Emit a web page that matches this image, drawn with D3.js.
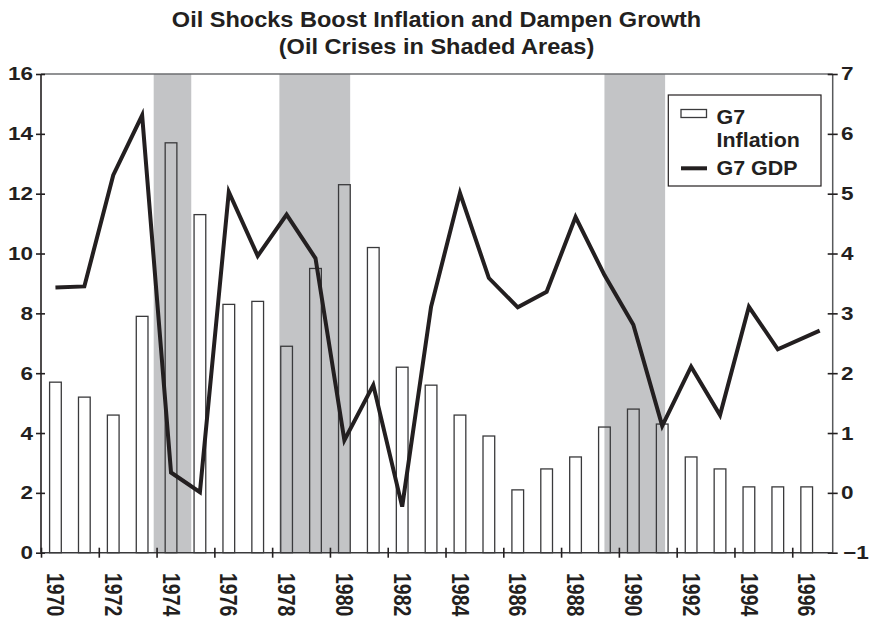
<!DOCTYPE html>
<html><head><meta charset="utf-8">
<script src="https://cdn.jsdelivr.net/npm/d3@7"></script>
<style>body{margin:0;background:#fff}text{font-family:"Liberation Sans",Arial,sans-serif;font-weight:bold;fill:#231f20}</style>
</head><body><svg id="c" width="869" height="622"></svg>
<script>
// ---- data ----
const years = [1970,1971,1972,1973,1974,1975,1976,1977,1978,1979,1980,1981,1982,1983,1984,1985,1986,1987,1988,1989,1990,1991,1992,1993,1994,1995,1996];
const inflation = [5.7,5.2,4.6,7.9,13.7,11.3,8.3,8.4,6.9,9.5,12.3,10.2,6.2,5.6,4.6,3.9,2.1,2.8,3.2,4.2,4.8,4.3,3.2,2.8,2.2,2.2,2.2];
const gdp = [3.43,3.45,5.31,6.31,0.34,0.01,5.03,3.96,4.65,3.92,0.88,1.80,-0.23,3.11,5.01,3.59,3.10,3.36,4.61,3.64,2.81,1.12,2.11,1.30,3.11,2.40,2.71];
const gdpYears = [1970,1971,1972,1973,1974,1975,1976,1977,1978,1979,1980,1981,1982,1983,1984,1985,1986,1987,1988,1989,1990,1991,1992,1993,1994,1995,1996.45];
const crisisStart = [1973.4, 1977.75, 1989.0];
const crisisEnd = [1974.7, 1980.2, 1991.1];
const yearLabels = [1970,1972,1974,1976,1978,1980,1982,1984,1986,1988,1990,1992,1994,1996];
const leftTicks = [0,2,4,6,8,10,12,14,16];
const rightTicks = [-1,0,1,2,3,4,5,6,7];
const titleLines = ["Oil Shocks Boost Inflation and Dampen Growth","(Oil Crises in Shaded Areas)"];

// ---- layout ----
const L = 41, R = 832.7, T = 74, B = 552.7;
const svg = d3.select("#c");
const x = d3.scaleLinear().domain([1969.5, 1996.9]).range([L, R]);
const yL = d3.scaleLinear().domain([0, 16]).range([B, T]);
const yR = d3.scaleLinear().domain([-1, 7]).range([B, T]);
const barHalf = 0.2025;

// title
svg.selectAll("text.title").data(titleLines).join("text")
  .attr("class","title")
  .attr("transform",(d,i)=>`translate(436.5,${27+i*27}) scale(1.07,1)`)
  .attr("text-anchor","middle").style("font-size","22px").text(d=>d);

// shading
svg.selectAll("rect.shade").data(crisisStart).join("rect")
  .attr("x",(d)=>x(d)).attr("y",T)
  .attr("width",(d,i)=>x(crisisEnd[i])-x(d)).attr("height",B-T)
  .attr("fill","#c3c4c6");

// top border
svg.append("line").attr("x1",L).attr("x2",R).attr("y1",T).attr("y2",T)
  .attr("stroke","#6d6e70").attr("stroke-width",1.5);

// bars
svg.selectAll("rect.bar").data(inflation).join("rect")
  .attr("x",(d,i)=>x(years[i]-barHalf)).attr("y",d=>yL(d))
  .attr("width",(d,i)=>x(years[i]+barHalf)-x(years[i]-barHalf))
  .attr("height",d=>yL(0)-yL(d))
  .attr("fill","none").attr("stroke","#3a3a3c").attr("stroke-width",1.3);

// axes
const stretch = 1.25;
function styleAxis(g){ g.selectAll("text").remove(); g.select(".domain").remove(); }
// left axis
svg.append("line").attr("x1",L).attr("x2",L).attr("y1",T).attr("y2",B).attr("stroke","#231f20").attr("stroke-width",1.6);
const la = svg.append("g").attr("transform",`translate(${L},0)`)
  .call(d3.axisLeft(yL).tickValues(leftTicks).tickSize(5));
la.call(styleAxis);
la.selectAll(".tick line").attr("x1",-5).attr("x2",4).attr("stroke","#231f20").attr("stroke-width",1.6);
svg.selectAll("text.lt").data(leftTicks).join("text").attr("class","lt")
  .attr("transform",d=>`translate(33,${yL(d)}) scale(${stretch},1)`)
  .attr("dy","0.36em").attr("text-anchor","end").style("font-size","18px").text(d=>d);

// right axis
svg.append("line").attr("x1",R).attr("x2",R).attr("y1",T).attr("y2",B).attr("stroke","#58595b").attr("stroke-width",1.5);
const ra = svg.append("g").attr("transform",`translate(${R},0)`)
  .call(d3.axisRight(yR).tickValues(rightTicks).tickSize(5));
ra.call(styleAxis);
ra.selectAll(".tick line").attr("x1",-5).attr("x2",5).attr("stroke","#231f20").attr("stroke-width",1.6);
svg.selectAll("text.rt").data(rightTicks).join("text").attr("class","rt")
  .attr("transform",d=>`translate(${d<0?843:841},${yR(d)}) scale(${stretch},1)`)
  .attr("dy","0.36em").attr("text-anchor","start").style("font-size","18px")
  .text(d=>d<0?"\u2212"+Math.abs(d):d);

// bottom axis
svg.append("line").attr("x1",L).attr("x2",R).attr("y1",B).attr("y2",B).attr("stroke","#3a3a3c").attr("stroke-width",1.5);
const xTicks = d3.range(1969.5, 1996, 2);
const ba = svg.append("g").attr("transform",`translate(0,${B})`)
  .call(d3.axisBottom(x).tickValues(xTicks).tickSize(5));
ba.call(styleAxis);
ba.selectAll(".tick line").attr("y1",-5).attr("y2",5).attr("stroke","#231f20").attr("stroke-width",1.6);
svg.selectAll("text.yl").data(yearLabels).join("text").attr("class","yl")
  .attr("transform",d=>`translate(${x(d)},573) rotate(90) scale(1,1.19)`)
  .attr("dy","0.36em").attr("text-anchor","start").style("font-size","19.5px").text(d=>d);

// GDP line
const line = d3.line().x((d,i)=>x(gdpYears[i])).y(d=>yR(d));
svg.append("path").datum(gdp).attr("d",line).attr("fill","none")
  .attr("stroke","#231f20").attr("stroke-width",4).attr("stroke-linejoin","miter");

// legend
const lg = svg.append("g");
lg.append("rect").attr("x",668.3).attr("y",95).attr("width",152.7).attr("height",91)
  .attr("fill","#fff").attr("stroke","#231f20").attr("stroke-width",1.2);
lg.append("rect").attr("x",681).attr("y",109.5).attr("width",25.5).attr("height",8)
  .attr("fill","#fff").attr("stroke","#3a3a3c").attr("stroke-width",1.3);
lg.append("line").attr("x1",681).attr("x2",707).attr("y1",168.3).attr("y2",168.3)
  .attr("stroke","#231f20").attr("stroke-width",4);
const legText = [["G7",124],["Inflation",147],["G7 GDP",175]];
lg.selectAll("text").data(legText).join("text")
  .attr("transform",d=>`translate(716.5,${d[1]}) scale(1.1,1)`)
  .style("font-size","19.5px").text(d=>d[0]);
</script></body></html>
